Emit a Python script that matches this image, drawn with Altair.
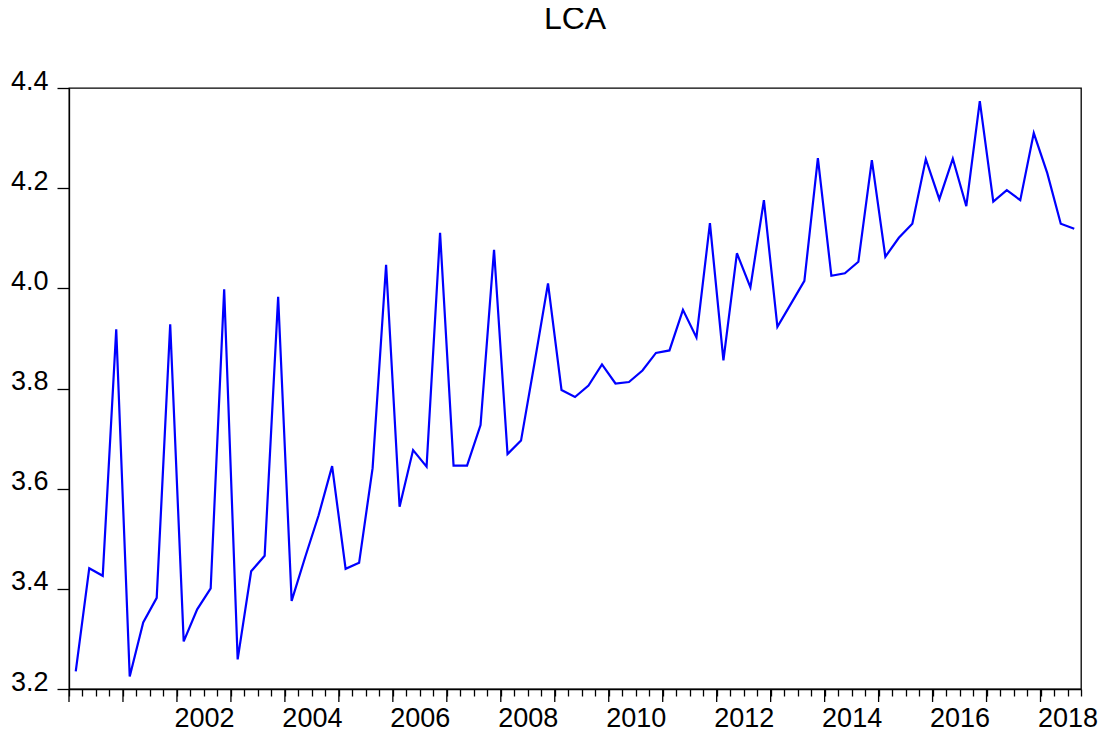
import altair as alt
import pandas as pd

# Quarterly series LCA, 2000Q1 .. 2018Q3
start_year = 2000
lca = [3.235, 3.441, 3.426, 3.918, 3.225, 3.333, 3.382, 3.928, 3.295, 3.359,
       3.401, 3.998, 3.259, 3.435, 3.466, 3.983, 3.376, 3.463, 3.547, 3.645,
       3.440, 3.452, 3.641, 4.047, 3.564, 3.677, 3.644, 4.111, 3.646, 3.646,
       3.727, 4.077, 3.669, 3.696, 3.851, 4.010, 3.797, 3.783, 3.806, 3.848,
       3.810, 3.813, 3.836, 3.871, 3.876, 3.957, 3.902, 4.130, 3.856, 4.070,
       4.002, 4.176, 3.923, 3.969, 4.015, 4.260, 4.025, 4.030, 4.053, 4.256,
       4.063, 4.101, 4.129, 4.258, 4.178, 4.259, 4.164, 4.374, 4.173, 4.196,
       4.176, 4.310, 4.230, 4.129, 4.119]
major_years = list(range(2000, 2019))
label_years = list(range(2002, 2019, 2))
y_ticks = [3.2, 3.4, 3.6, 3.8, 4.0, 4.2, 4.4]

n = len(lca)
periods = [f"{start_year + i // 4}Q{i % 4 + 1}" for i in range(n)]
t = [start_year + (i + 0.5) / 4 for i in range(n)]
df = pd.DataFrame({"period": periods, "t": t, "LCA": lca})
quarter_ticks = [start_year + k / 4 for k in range(n + 1)]

W, H = 1012, 601
x_end = start_year + n / 4
xscale = alt.Scale(domain=[start_year, x_end], nice=False, zero=False)
yscale = alt.Scale(domain=[3.2, 4.4], nice=False, zero=False)

lab_list = ",".join(str(y) for y in label_years)
label_expr = f"indexof([{lab_list}], datum.value) >= 0 ? format(datum.value, 'd') : ''"

x_axis = alt.Axis(values=quarter_ticks, tickSize=7, tickWidth=1.3, tickColor="black",
                  domainColor="black", domainWidth=1.3, grid=False,
                  labelExpr=label_expr, labelOverlap=False, labelFlush=False,
                  labelOffset=27, labelPadding=30, labelBaseline="alphabetic",
                  labelFontSize=27, labelFont="Liberation Sans", labelColor="black")

line = alt.Chart(df).mark_line(color="#0000FF", strokeWidth=2.2).encode(
    x=alt.X("t:Q", scale=xscale, title=None, axis=x_axis),
    y=alt.Y("LCA:Q", scale=yscale, title=None,
            axis=alt.Axis(values=y_ticks, format=".1f", tickSize=12, tickWidth=1.3,
                          tickColor="black", domainColor="black", domainWidth=1.3, grid=False,
                          labelPadding=9, labelBaseline="alphabetic", labelOffset=1,
                          labelFontSize=27, labelFont="Liberation Sans", labelColor="black")),
)

major = alt.Chart(pd.DataFrame({"yr": major_years})).mark_rule(color="black", strokeWidth=1.3).encode(
    x=alt.X("yr:Q", scale=xscale, title=None, axis=x_axis),
    y=alt.value(H),
    y2=alt.value(H + 13),
)

chart = alt.layer(line, major).properties(
    width=W, height=H,
    background="white",
    title=alt.TitleParams("LCA", fontSize=32, font="Liberation Sans", fontWeight="normal",
                          color="black", anchor="middle", baseline="alphabetic", offset=6),
    padding={"left": 61, "top": 80, "right": 20, "bottom": 43},
    autosize="none",
).configure_view(stroke="black", strokeWidth=1.3)

chart.save("out.html", embed_options={"renderer": "svg", "actions": False})
